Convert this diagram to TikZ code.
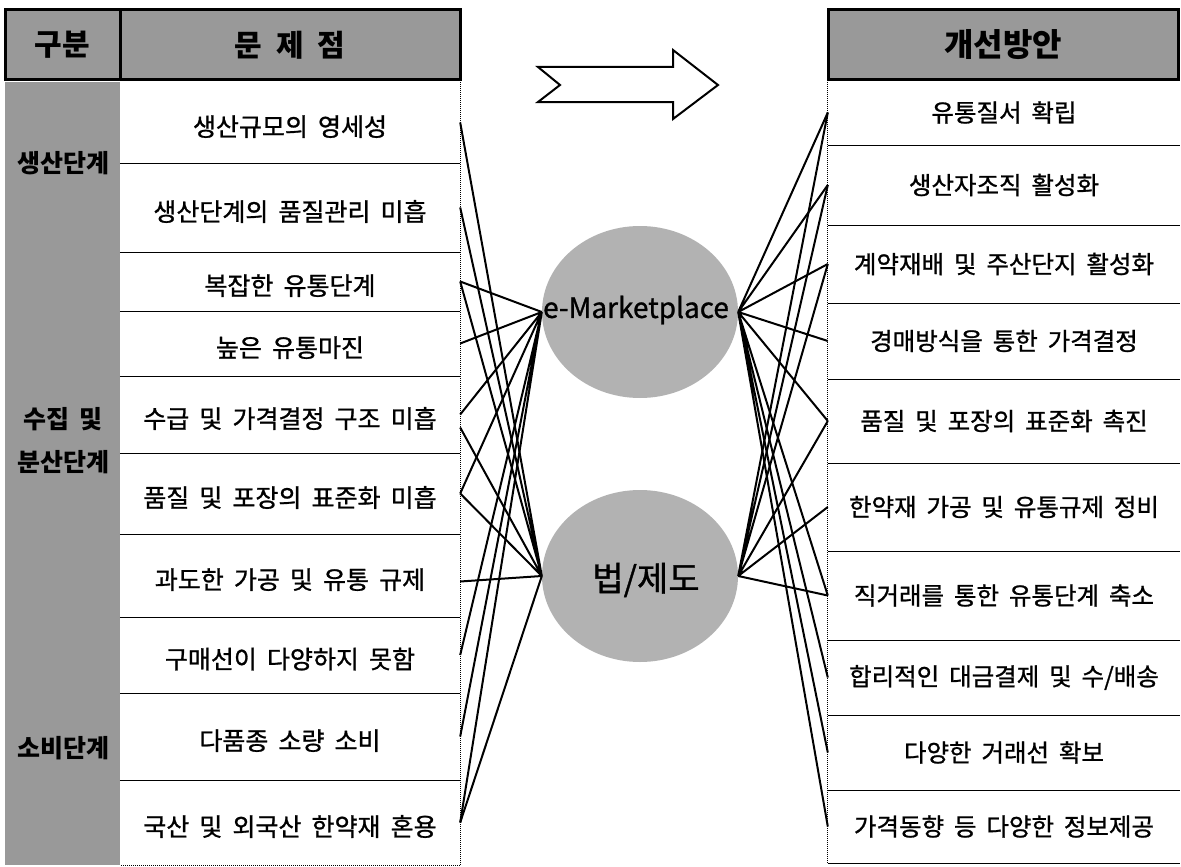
\documentclass[tikz,border=0pt]{standalone}
\usepackage{fontspec}
\setmainfont[WordSpace=1.8]{Noto Sans CJK KR}
\newfontfamily\rowfont[WordSpace=1.8, FakeBold=1]{Noto Sans CJK KR}
\usetikzlibrary{shapes.geometric}

\colorlet{cellgray}{black!40}
\colorlet{hubgray}{black!30}

\tikzset{
  head/.style={draw, line width=3pt, fill=cellgray, inner sep=0pt,
    minimum height=70pt, font=\bfseries\fontsize{30}{34}\selectfont},
  prob/.style={minimum width=340pt, inner sep=0pt, text height=34pt, text depth=7pt,
    font=\rowfont\fontsize{25}{28}\selectfont},
  plan/.style={minimum width=352pt, inner sep=0pt, font=\rowfont\fontsize{24.5}{28}\selectfont},
  stage/.style={font=\bfseries\fontsize{25}{28}\selectfont},
  hub/.style={ellipse, fill=hubgray, minimum width=196pt, minimum height=172pt, inner sep=0pt},
  hubtext/.style={inner sep=0pt, font=\rowfont},
  link/.style={line width=2pt},
  rule/.style={line width=1pt},
  edge/.style={line width=1pt, densely dotted},
}

\begin{document}
\begin{tikzpicture}[x=1pt, y=-1pt]
\useasboundingbox (0,0) rectangle (1181,867);
% Stage column
\fill[cellgray] (5,82) rectangle (120,865);
\node[stage] (stage-prod) at (63,163) {생산단계};
\node[stage] (stage-coll) at (63,419) {수집 및};
\node[stage] (stage-dist) at (63,462) {분산단계};
\node[stage] (stage-cons) at (63,748) {소비단계};
% Headers
\node[head, minimum width=115pt] (head-stage) at (62.5,45) {구분};
\node[head, minimum width=340pt] (head-prob) at (290,45) {문\hspace{14pt}제\hspace{14pt}점};
\node[head, minimum width=350pt] (head-plan) at (1003,45) {\fontsize{32}{36}\selectfont 개선방안};
% Problems
\node[prob, minimum height=81pt] (prob-1) at (290,122.5) {생산규모의 영세성};
\node[prob, minimum height=89pt] (prob-2) at (290,207.5) {생산단계의 품질관리 미흡};
\node[prob, minimum height=59pt] (prob-3) at (290,281.5) {복잡한 유통단계};
\node[prob, minimum height=65pt] (prob-4) at (290,343.5) {높은 유통마진};
\node[prob, minimum height=77pt] (prob-5) at (290,414.5) {수급 및 가격결정 구조 미흡};
\node[prob, minimum height=81pt] (prob-6) at (290,493.5) {품질 및 포장의 표준화 미흡};
\node[prob, minimum height=83pt] (prob-7) at (290,575.5) {과도한 가공 및 유통 규제};
\node[prob, minimum height=76pt] (prob-8) at (290,655) {구매선이 다양하지 못함};
\node[prob, minimum height=87pt] (prob-9) at (290,736.5) {다품종 소량 소비};
\node[prob, minimum height=85pt] (prob-10) at (290,822.5) {국산 및 외국산 한약재 혼용};
\draw[rule] (prob-1.south west) -- (prob-1.south east)
  (prob-2.south west) -- (prob-2.south east)
  (prob-3.south west) -- (prob-3.south east)
  (prob-4.south west) -- (prob-4.south east)
  (prob-5.south west) -- (prob-5.south east)
  (prob-6.south west) -- (prob-6.south east)
  (prob-7.south west) -- (prob-7.south east)
  (prob-8.south west) -- (prob-8.south east)
  (prob-9.south west) -- (prob-9.south east);
\draw[edge] (prob-1.north east) -- (prob-10.south east) -- (prob-10.south west);
% Plans
\node[plan, minimum height=65pt] (plan-1) at (1004,112.5) {유통질서 확립};
\node[plan, minimum height=80pt] (plan-2) at (1004,185) {생산자조직 활성화};
\node[plan, minimum height=78pt] (plan-3) at (1004,264) {계약재배 및 주산단지 활성화};
\node[plan, minimum height=76pt] (plan-4) at (1004,341) {경매방식을 통한 가격결정};
\node[plan, minimum height=84pt] (plan-5) at (1004,421) {품질 및 포장의 표준화 촉진};
\node[plan, minimum height=88pt] (plan-6) at (1004,507) {한약재 가공 및 유통규제 정비};
\node[plan, minimum height=89pt] (plan-7) at (1004,595.5) {직거래를 통한 유통단계 축소};
\node[plan, minimum height=75pt] (plan-8) at (1004,677.5) {합리적인 대금결제 및 수/배송};
\node[plan, minimum height=75pt] (plan-9) at (1004,752.5) {다양한 거래선 확보};
\node[plan, minimum height=73pt] (plan-10) at (1004,826.5) {가격동향 등 다양한 정보제공};
\draw[rule] (plan-1.south west) -- (plan-1.south east)
  (plan-2.south west) -- (plan-2.south east)
  (plan-3.south west) -- (plan-3.south east)
  (plan-4.south west) -- (plan-4.south east)
  (plan-5.south west) -- (plan-5.south east)
  (plan-6.south west) -- (plan-6.south east)
  (plan-7.south west) -- (plan-7.south east)
  (plan-8.south west) -- (plan-8.south east)
  (plan-9.south west) -- (plan-9.south east)
  (plan-10.south west) -- (plan-10.south east);
\draw[edge] (plan-1.north west) -- (plan-10.south west);
% Big arrow
\draw[line width=2pt] (538,67) -- (673,67) -- (673,50) -- (718,85)
  -- (673,119) -- (673,102) -- (538,102) -- (560,85) -- cycle;
% Hubs
\node[hub] (emarket) at (640,312) {};
\node[hub] (law) at (640,576) {};
\node[hubtext, font=\rowfont\fontsize{28}{30}\selectfont] (emarket-text) at (636,310) {e-Marketplace};
\node[hubtext, font=\rowfont\fontsize{34}{36}\selectfont] (law-text) at (646,580) {법/제도};
% Problems to hubs
\draw[link] (prob-3.east) -- (emarket.west)
  (prob-4.east) -- (emarket.west)
  (prob-5.east) -- (emarket.west)
  (prob-6.east) -- (emarket.west)
  (prob-8.east) -- (emarket.west)
  (prob-9.east) -- (emarket.west)
  (prob-10.east) -- (emarket.west);
\draw[link] (prob-1.east) -- (law.west)
  (prob-2.east) -- (law.west)
  (prob-3.east) -- (law.west)
  ([yshift=-13pt]prob-5.east) -- (law.west)
  (prob-6.east) -- (law.west)
  ([yshift=-6pt]prob-7.east) -- (law.west)
  (prob-10.east) -- (law.west);
% Hubs to plans
\draw[link] (emarket.east) -- (plan-1.west)
  (emarket.east) -- (plan-2.west)
  (emarket.east) -- (plan-3.west)
  (emarket.east) -- (plan-4.west)
  (emarket.east) -- (plan-5.west)
  (emarket.east) -- (plan-7.west)
  (emarket.east) -- (plan-8.west)
  (emarket.east) -- (plan-9.west)
  (emarket.east) -- (plan-10.west);
\draw[link] (law.east) -- (plan-1.west)
  (law.east) -- (plan-2.west)
  (law.east) -- (plan-3.west)
  (law.east) -- (plan-5.west)
  (law.east) -- (plan-6.west)
  (law.east) -- (plan-7.west);
\end{tikzpicture}
\end{document}
